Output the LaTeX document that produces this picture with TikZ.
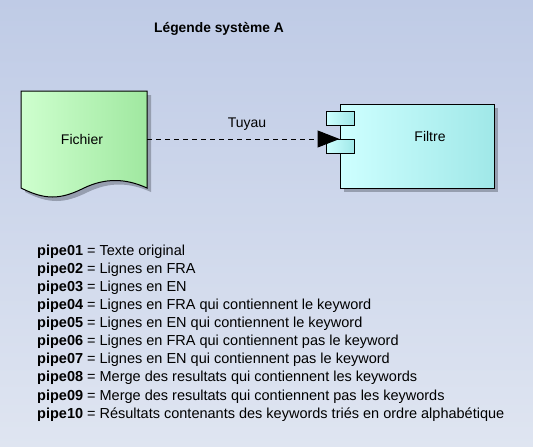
\documentclass[tikz,border=0pt]{standalone}
\usepackage{fontspec}
\setmainfont{Liberation Sans}
\usetikzlibrary{arrows.meta}
\definecolor{bgtop}{RGB}{191,203,230}
\definecolor{bgbot}{RGB}{223,229,241}
\definecolor{gleft}{RGB}{206,255,206}
\definecolor{gright}{RGB}{160,232,160}
\definecolor{cleft}{RGB}{206,255,255}
\definecolor{cright}{RGB}{160,232,232}
\definecolor{shad}{RGB}{150,158,175}
\tikzset{
  greenfill/.style={left color=gleft,right color=gright,draw=black,line width=1pt},
  cyanfill/.style={left color=cleft,right color=cright,draw=black,line width=1pt},
  shadowfill/.style={fill=shad,draw=none},
  lbl/.style={font=\fontsize{14}{16}\selectfont,inner sep=0pt},
  pipe/.style={draw=black,line width=1pt,dash pattern=on 5pt off 4pt,-{Triangle[length=22pt,width=17pt]}},
}
\begin{document}
\begin{tikzpicture}[x=1pt,y=-1pt]
\useasboundingbox (0,0) rectangle (533,447);
\shade[top color=bgtop,bottom color=bgbot] (0,0) rectangle (533,447);
% title
\node[lbl,font=\fontsize{13.8}{16}\selectfont\bfseries] (title) at (219,29) {Légende système A};
% Fichier
\fill[shadowfill] (25,95) -- (151,95) -- (151,192) .. controls (129,182) and (109,182) .. (88,192) .. controls (64,204) and (49,204) .. (25,192) -- cycle;
\path[greenfill] (21,91) -- (147,91) -- (147,188) .. controls (125,178) and (105,178) .. (84,188) .. controls (60,200) and (45,200) .. (21,188) -- cycle;
\node[lbl,minimum width=126pt] (fichier) at (84,139) {};
\node[lbl] (fichierlbl) at (82,139) {Fichier};
% Filtre
\fill[shadowfill] (344,108) rectangle (498,192);
\node[cyanfill,minimum width=154pt,minimum height=84pt,inner sep=0pt] (filtre) at (417,146) {};
\node[lbl] (filtrelbl) at (430,136) {Filtre};
\path[cyanfill] (326,111) rectangle (354,125);
\path[cyanfill] (326,139) rectangle (354,153);
% connector
\draw[pipe] (fichier.east) -- (fichier.east -| filtre.west);
\node[lbl] (tuyau) at (247,124) {Tuyau};
% legend
\node[lbl,anchor=north west,align=left,font=\fontsize{14.5}{18.1}\selectfont] (legend) at (37,244.5) {%
\textbf{pipe01} = Texte original\\
\textbf{pipe02} = Lignes en FRA\\
\textbf{pipe03} = Lignes en EN\\
\textbf{pipe04} = Lignes en FRA qui contiennent le keyword\\
\textbf{pipe05} = Lignes en EN qui contiennent le keyword\\
\textbf{pipe06} = Lignes en FRA qui contiennent pas le keyword\\
\textbf{pipe07} = Lignes en EN qui contiennent pas le keyword\\
\textbf{pipe08} = Merge des resultats qui contiennent les keywords\\
\textbf{pipe09} = Merge des resultats qui contiennent pas les keywords\\
\textbf{pipe10} = Résultats contenants des keywords triés en ordre alphabétique};
\end{tikzpicture}
\end{document}
